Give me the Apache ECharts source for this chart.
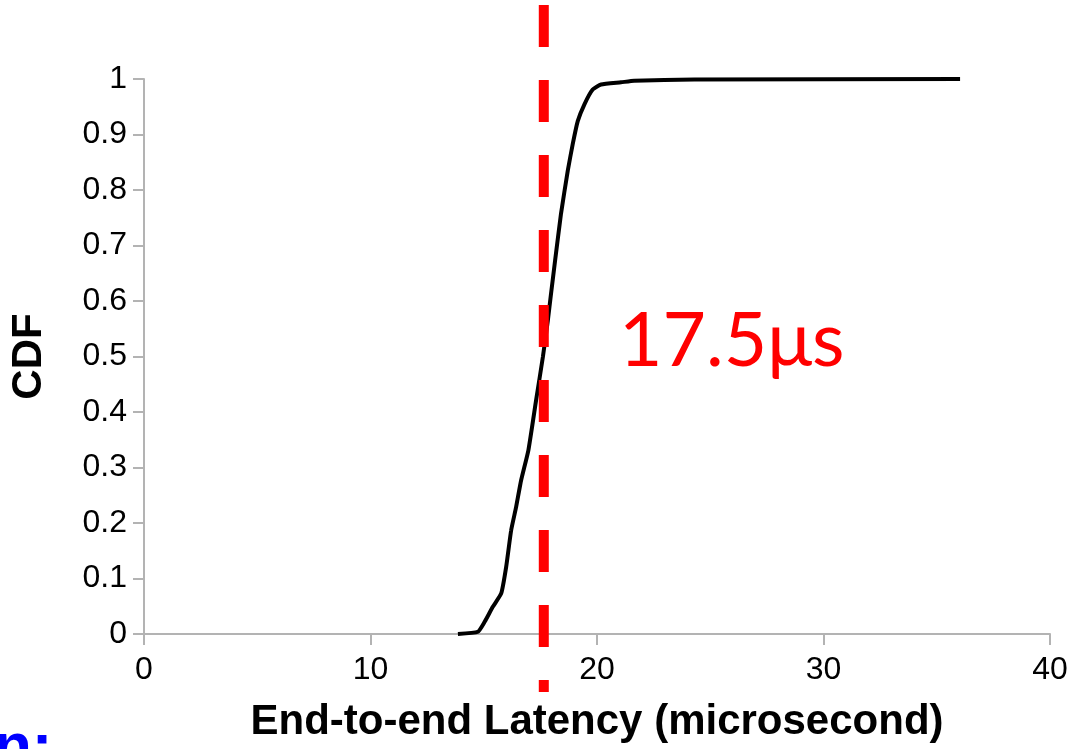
<!DOCTYPE html>
<html>
<head>
<meta charset="utf-8">
<style>
  html, body { margin: 0; padding: 0; background: #fff; }
  #chart { width: 1074px; height: 749px; }
</style>
<script src="https://cdn.jsdelivr.net/npm/echarts@6/dist/echarts.min.js"></script>
</head>
<body>
<div id="chart"></div>
<script>
// latency (microsecond) vs CDF
let latency = [13.86, 14.74, 15.04, 15.4, 15.77, 15.99, 16.21, 16.43, 16.65, 16.97, 17.31, 17.61, 17.83, 17.97, 18.15, 18.41, 18.71, 18.93, 19.15, 19.44, 19.81, 20.18, 21.06, 21.64, 24.3, 36.03];
let cdf = [0, 0.004, 0.022, 0.049, 0.073, 0.121, 0.187, 0.229, 0.277, 0.331, 0.421, 0.499, 0.565, 0.613, 0.673, 0.757, 0.835, 0.883, 0.924, 0.954, 0.981, 0.990, 0.994, 0.997, 0.999, 1];
let medianX = 17.7;
let medianLabel = '17.5μs';
let xTicks = [0, 10, 20, 30, 40];

let chart = echarts.init(document.getElementById('chart'));
let axisGrey = '#b3b3b3';
let tickFont = 'Liberation Sans, Arial, sans-serif';

let option = {
  animation: false,
  backgroundColor: '#fff',
  grid: [
    { left: 142, right: 24, top: 79, bottom: 115 },
    { left: 142, right: 24, top: 5, bottom: 57 }
  ],
  xAxis: [
    {
      gridIndex: 0, type: 'value',
      min: xTicks[0], max: xTicks[xTicks.length - 1], interval: 10,
      name: 'End-to-end Latency (microsecond)',
      nameLocation: 'middle', nameGap: 67,
      nameTextStyle: { fontFamily: tickFont, fontWeight: 'bold', fontSize: 42, color: '#000' },
      axisLine: { lineStyle: { color: axisGrey, width: 2 } },
      axisTick: { show: true, length: 11, lineStyle: { color: axisGrey, width: 2 } },
      axisLabel: { margin: 20, fontFamily: tickFont, fontSize: 32, color: '#000' },
      splitLine: { show: false }
    },
    {
      gridIndex: 1, type: 'value', min: 0, max: 40, show: false
    }
  ],
  yAxis: [
    {
      gridIndex: 0, type: 'value', min: 0, max: 1, interval: 0.1,
      name: 'CDF', nameLocation: 'middle', nameGap: 94, nameRotate: 90,
      nameTextStyle: { fontFamily: tickFont, fontWeight: 'bold', fontSize: 42, color: '#000' },
      axisLine: { show: true, lineStyle: { color: axisGrey, width: 2 } },
      axisTick: { show: true, length: 11, lineStyle: { color: axisGrey, width: 2 } },
      axisLabel: { margin: 17, fontFamily: tickFont, fontSize: 32, color: '#000' },
      splitLine: { show: false }
    },
    {
      gridIndex: 1, type: 'value', min: 0, max: 1, show: false
    }
  ],
  series: [
    {
      type: 'line',
      xAxisIndex: 0, yAxisIndex: 0,
      data: latency.map((x, i) => [x, cdf[i]]),
      showSymbol: false,
      smooth: 0.15,
      lineStyle: { color: '#000', width: 4 },
      z: 2
    },
    {
      type: 'line',
      xAxisIndex: 1, yAxisIndex: 1,
      data: [[medianX, 1], [medianX, 0]],
      showSymbol: false,
      lineStyle: { color: '#ff0000', width: 10, type: [42, 33], cap: 'butt' },
      z: 5
    }
  ],
  graphic: [
    {
      type: 'text', left: 619, top: 304,
      style: { text: medianLabel, font: '75px Lato, "Open Sans", sans-serif', fill: '#ff0000' }
    },
    {
      type: 'text', left: -6, top: 718,
      style: { text: 'n:', font: 'bold 62px "Liberation Sans", Arial, sans-serif', fill: '#0000ff' }
    }
  ]
};

chart.setOption(option);
</script>
</body>
</html>
